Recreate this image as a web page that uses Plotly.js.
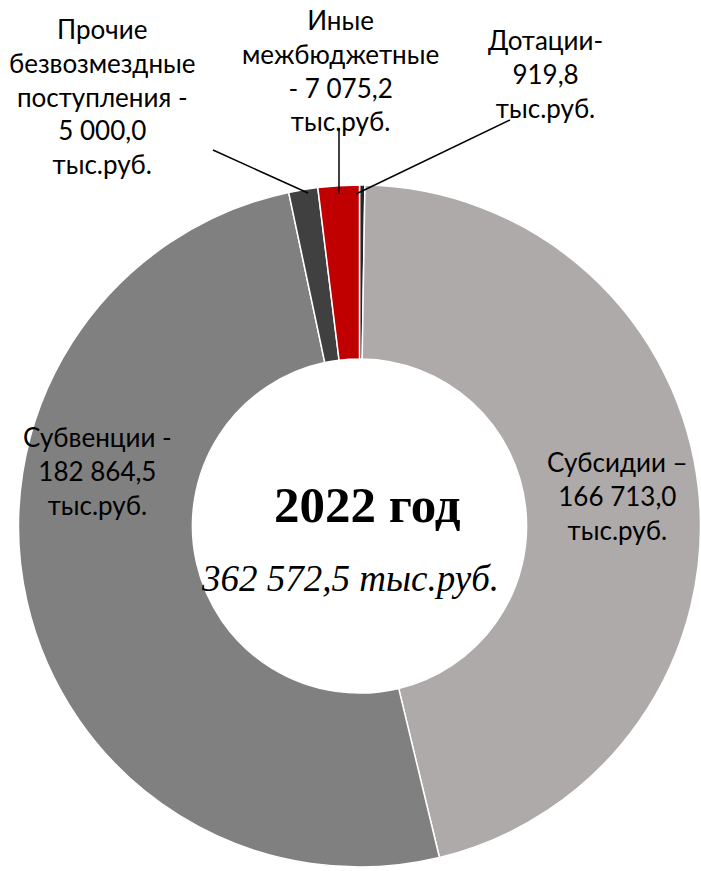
<!DOCTYPE html>
<html>
<head>
<meta charset="utf-8">
<script src="https://cdn.plot.ly/plotly-3.0.1.min.js"></script>
<style>html,body{margin:0;padding:0;background:#fff}#chart{width:701px;height:871px}</style>
</head>
<body>
<div id="chart"></div>
<script>
// Безвозмездные поступления, 2022 год (тыс.руб.)
const categories = ["Дотации", "Субсидии", "Субвенции", "Прочие безвозмездные поступления", "Иные межбюджетные трансферты"];
const values = [919.8, 166713.0, 182864.5, 5000.0, 7075.2];
const totalLabel = "362 572,5 тыс.руб.";
const yearLabel = "2022 год";

const sliceColors = ["#262626", "#AEAAAA", "#808080", "#404040", "#C00000"];

const W = 701, H = 871;
const px = x => x / W, py = y => 1 - y / H;
const fmt = v => v.toFixed(1).replace(".", ",").replace(/\B(?=(\d{3})+(?!\d))/g, " ");

// label text per slice (wording as on the original slide)
const labelText = [
  "Дотации-<br>" + fmt(values[0]) + "<br>тыс.руб.",
  "Субсидии –<br>" + fmt(values[1]) + "<br>тыс.руб.",
  "Субвенции -<br>" + fmt(values[2]) + "<br>тыс.руб.",
  "Прочие<br>безвозмездные<br>поступления -<br>" + fmt(values[3]) + "<br>тыс.руб.",
  "Иные<br>межбюджетные<br>- " + fmt(values[4]) + "<br>тыс.руб."
];
const labelPos = [[545, 74], [617, 496], [97, 471], [102, 97], [340, 71]];

const lblFont = {family: "Lato, 'Noto Sans', sans-serif", size: 26, color: "#000"};
const annotations = labelText.map((t, i) => ({
  text: t, x: px(labelPos[i][0]), y: py(labelPos[i][1]), xref: "paper", yref: "paper",
  showarrow: false, font: lblFont, align: "center", xanchor: "center", yanchor: "middle"
}));
annotations.push(
  {text: "<b>" + yearLabel + "</b>", x: px(367), y: py(505), xref: "paper", yref: "paper", showarrow: false,
   font: {family: "'Liberation Serif', serif", size: 51, color: "#000"}},
  {text: "<i>" + totalLabel + "</i>", x: px(350), y: py(578), xref: "paper", yref: "paper", showarrow: false,
   font: {family: "'Liberation Serif', serif", size: 37, color: "#000"}}
);

const leader = (x0, y0, x1, y1) => ({type: "line", xref: "paper", yref: "paper",
  x0: px(x0), y0: py(y0), x1: px(x1), y1: py(y1), line: {color: "#000", width: 1.5}});
const shapes = [leader(213, 150, 308, 193), leader(339, 128, 339, 194), leader(510, 120, 356, 194)];

Plotly.newPlot("chart", [{
  type: "pie", labels: categories, values: values, sort: false, direction: "clockwise", rotation: 0,
  hole: 0.49, textinfo: "none", hoverinfo: "label+value",
  marker: {colors: sliceColors, line: {color: "#fff", width: 1.5}},
  domain: {x: [px(18), px(701)], y: [py(867), py(185)]}
}], {
  width: W, height: H, margin: {l: 0, r: 0, t: 0, b: 0}, showlegend: false,
  paper_bgcolor: "#fff", annotations: annotations, shapes: shapes
}, {displayModeBar: false, staticPlot: true});
</script>
</body>
</html>
